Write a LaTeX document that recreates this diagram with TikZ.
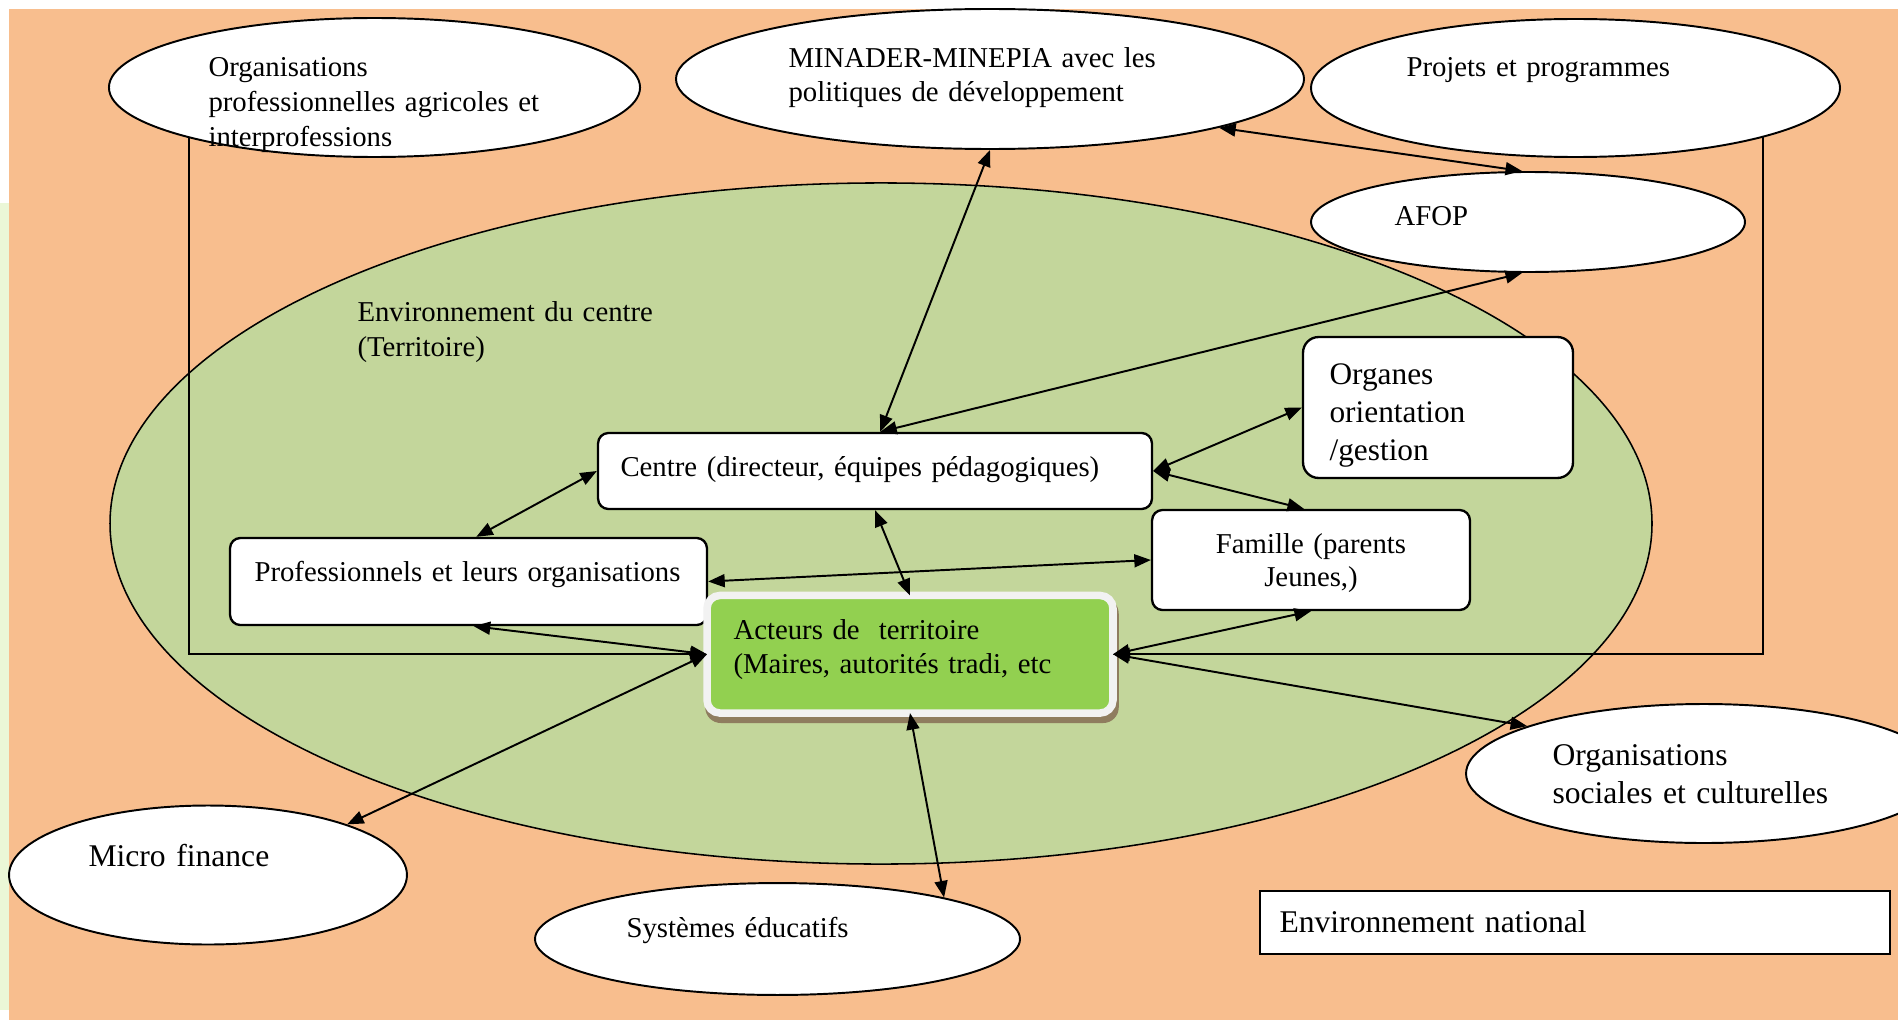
\documentclass[tikz,border=0pt]{standalone}
\usepackage{fontspec}
\setmainfont{Liberation Serif}
\usetikzlibrary{arrows.meta,shapes.geometric}
\definecolor{bgorange}{HTML}{F8BE8E}
\definecolor{ellgreen}{HTML}{C3D69B}
\definecolor{actgreen}{HTML}{92D050}
\definecolor{palestrip}{HTML}{EBF7D7}
\definecolor{borderlight}{HTML}{F2F2F2}
\definecolor{shadowbrown}{HTML}{8F7D5F}
\begin{document}
\begin{tikzpicture}[x=0.386pt,y=-0.386pt,
  ell/.style={ellipse, draw=black, line width=0.75pt, fill=white, inner sep=0pt},
  box/.style={rectangle, rounded corners=4pt, draw=black, line width=0.9pt, fill=white, inner sep=0pt},
  txt/.style={inner sep=0pt, anchor=base west, align=left, font=\fontsize{11.1}{13.5}\selectfont},
  bigtxt/.style={txt, font=\fontsize{12.2}{14.7}\selectfont},
  link/.style={line width=0.75pt, {Triangle[length=6.4pt,width=5pt]}-{Triangle[length=6.4pt,width=5pt]}},
  framelink/.style={line width=0.75pt, -{Triangle[length=6.4pt,width=5pt]}}
]
\useasboundingbox (0,0) rectangle (1898,1020);
\clip (0,0) rectangle (1898,1020);
\fill[white] (0,0) rectangle (1898,1020);
\fill[palestrip] (0,203) rectangle (9,1010);
\fill[bgorange] (9,9) rectangle (1898,1020);

% territory ellipse
\node[ellipse, draw=black, line width=0.6pt, fill=ellgreen, inner sep=0pt,
      minimum width=595.2pt, minimum height=262.9pt] (bigell) at (881,523.5) {};

% outer ellipses
\node[ell, minimum width=205pt,   minimum height=53.65pt] (opa)     at (374.5,87.5) {};
\node[ell, minimum width=242.4pt, minimum height=54.04pt] (minader) at (990,79) {};
\node[ell, minimum width=204.2pt, minimum height=53.27pt] (projets) at (1575.5,88) {};
\node[ell, minimum width=167.5pt, minimum height=38.6pt]  (afop)    at (1528,222) {};
\node[ell, minimum width=153.6pt, minimum height=53.65pt] (micro)   at (208,875) {};
\node[ell, minimum width=187.2pt, minimum height=43.2pt]  (syst)    at (777.5,939) {};
\node[ell, minimum width=183.7pt, minimum height=53.65pt] (orgsoc)  at (1704,773.5) {};

% boxes
\node[box, minimum width=213.8pt, minimum height=29.34pt] (centre)  at (875,471) {};
\node[box, rounded corners=6pt, minimum width=104.2pt, minimum height=54.4pt] (organes) at (1438,407.5) {};
\node[box, minimum width=122.7pt, minimum height=38.6pt]  (famille) at (1311,560) {};
\node[box, minimum width=184.1pt, minimum height=33.6pt]  (prof)    at (468.5,581.5) {};
\node[fill=shadowbrown, rounded corners=6pt, inner sep=0pt,
      minimum width=159.6pt, minimum height=48.25pt] (actshadow) at (912,660.5) {};
\node[rectangle, rounded corners=5pt, draw=borderlight, line width=2.9pt, fill=actgreen,
      outer sep=0pt, inner sep=0pt, minimum width=156.7pt, minimum height=45.4pt] (acteurs) at (910,654.25) {};
\node[rectangle, draw=black, line width=0.9pt, fill=white, inner sep=0pt,
      minimum width=243.2pt, minimum height=24.3pt] (envnat) at (1575,922.5) {};

% texts
\node[txt, text width=180pt] (topa) at (208,77) {Organisations\\professionnelles agricoles et\\interprofessions};
\node[txt, text width=180pt, font=\fontsize{11.1}{13.1}\selectfont] (tminader) at (788,68) {MINADER-MINEPIA avec les\\politiques de développement};
\node[txt, text width=150pt] (tprojets) at (1406,77) {Projets et programmes};
\node[txt, text width=60pt] (tafop) at (1394,225) {AFOP};
\node[txt, text width=150pt, font=\fontsize{11.1}{13.7}\selectfont] (tenv) at (357,321) {Environnement du centre\\(Territoire)};
\node[txt, text width=220pt] (tcentre) at (620,476) {Centre (directeur, équipes pédagogiques)};
\node[txt, text width=90pt, font=\fontsize{12.1}{14.7}\selectfont] (torganes) at (1329,384) {Organes\\orientation\\/gestion};
\node[inner sep=0pt, anchor=base, align=center, text width=120pt, font=\fontsize{11.1}{13.1}\selectfont] (tfamille) at (1311,553) {Famille (parents\\Jeunes,)};
\node[txt, text width=180pt] (tprof) at (254,581) {Professionnels et leurs organisations};
\node[txt, text width=150pt] (tacteurs) at (733,639) {Acteurs de\ \ territoire\\(Maires, autorités tradi, etc};
\node[bigtxt, text width=120pt] (tmicro) at (88,866) {Micro finance};
\node[txt, text width=150pt] (tsyst) at (626,937) {Systèmes éducatifs};
\node[bigtxt, text width=150pt] (torgsoc) at (1552,765) {Organisations\\sociales et culturelles};
\node[bigtxt, text width=200pt] (tenvnat) at (1279,932) {Environnement national};

% connectors
\draw[link] (minader.south) -- ([xshift=2pt]centre.north);
\draw[link] ([xshift=-2.3pt]afop.south) -- ([xshift=2pt]centre.north);
\draw[link] (minader.-12) -- ([xshift=-2.3pt]afop.north);
\draw[link] (centre.west) -- ([xshift=3pt]prof.north);
\draw[link] (centre.east) -- (organes.west);
\draw[link] (centre.east) -- ([xshift=-2.7pt]famille.north);
\draw[link] (centre.south) -- (acteurs.north);
\draw[link] (prof.east) -- (famille.west);
\draw[link] ([xshift=2pt]prof.south) -- (acteurs.west);
\draw[link] (acteurs.west) -- (micro.20);
\draw[link] (acteurs.east) -- (famille.south);
\draw[link] (acteurs.east) -- (orgsoc.165);
\draw[link] (acteurs.south) -- (syst.14);
\coordinate (opaleg) at (189,137);
\coordinate (projleg) at (1763,137);
\draw[framelink] (opaleg) |- (acteurs.west);
\draw[framelink] (projleg) |- (acteurs.east);
\end{tikzpicture}
\end{document}
